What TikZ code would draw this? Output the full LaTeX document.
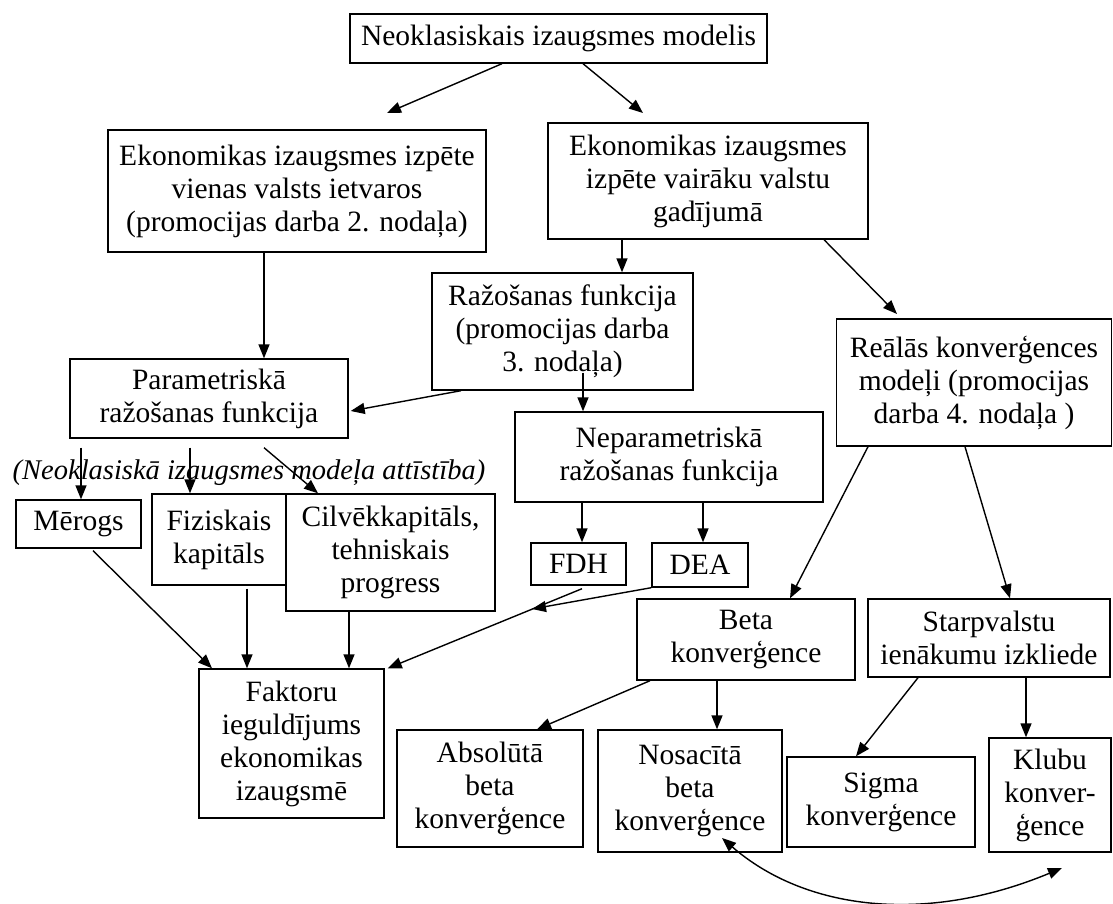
\documentclass[tikz,border=0pt]{standalone}
\usepackage{fontspec}
\setmainfont{Liberation Serif}
\usetikzlibrary{arrows.meta}
\newcommand{\boxfont}{\fontsize{29.5}{33}\selectfont}
\newcommand{\lblfont}{\fontsize{28.5}{32}\selectfont\itshape}
\begin{document}
\begin{tikzpicture}[x=1pt,y=-1pt,
  box/.style={draw, line width=1.4pt, inner sep=0pt, align=center, font=\boxfont},
  arr/.style={line width=1.4pt, -{Triangle[length=14pt,width=11pt]}},
  darr/.style={line width=1.4pt, {Triangle[length=14pt,width=11pt]}-{Triangle[length=14pt,width=11pt]}},
  lbl/.style={inner sep=0pt, font=\lblfont}
]
\useasboundingbox (0,0) rectangle (1113,904);

% nodes
\node[box, minimum width=417pt, minimum height=49pt] (top) at (558.5,38.5) {Neoklasiskais izaugsmes modelis};
\node[box, minimum width=378pt, minimum height=122pt] (ekon1) at (297,191) {Ekonomikas izaugsmes izpēte\\vienas valsts ietvaros\\(promocijas darba 2. nodaļa)};
\node[box, minimum width=320pt, minimum height=116pt] (ekon2) at (708,181) {Ekonomikas izaugsmes\\izpēte vairāku valstu\\gadījumā};
\node[box, minimum width=261pt, minimum height=117pt] (raz) at (562.5,331.5) {Ražošanas funkcija\\(promocijas darba\\3. nodaļa)};
\node[box, minimum width=275pt, minimum height=127pt] (real) at (974,382.5) {Reālās konverģences\\modeļi (promocijas\\darba 4. nodaļa )};
\node[box, minimum width=278pt, minimum height=79pt] (param) at (209,398.5) {Parametriskā\\ražošanas funkcija};
\node[box, minimum width=308pt, minimum height=90pt] (nep) at (669,457) {Neparametriskā\\ražošanas funkcija};
\node[lbl] (devel) at (249,473) {(Neoklasiskā izaugsmes modeļa attīstība)};
\node[box, minimum width=125pt, minimum height=48pt] (merogs) at (78.5,524) {Mērogs};
\node[box, minimum width=134pt, minimum height=91pt] (fiz) at (219,539.5) {Fiziskais\\kapitāls};
\node[box, minimum width=209pt, minimum height=117pt] (cil) at (390.5,552.5) {Cilvēkkapitāls,\\tehniskais\\progress};
\node[box, minimum width=95pt, minimum height=42pt] (fdh) at (578.5,564) {FDH};
\node[box, minimum width=96pt, minimum height=44pt] (dea) at (700,565) {DEA};
\node[box, minimum width=185pt, minimum height=149pt] (fak) at (291.5,743.5) {Faktoru\\ieguldījums\\ekonomikas\\izaugsmē};
\node[box, minimum width=218pt, minimum height=81pt] (beta) at (746,639.5) {Beta\\konverģence};
\node[box, minimum width=242pt, minimum height=78pt] (starp) at (989,638) {Starpvalstu\\ienākumu izkliede};
\node[box, minimum width=186pt, minimum height=117pt] (abs) at (490,788.5) {Absolūtā\\beta\\konverģence};
\node[box, minimum width=184pt, minimum height=122pt] (nos) at (690,791) {Nosacītā\\beta\\konverģence};
\node[box, minimum width=188pt, minimum height=90pt] (sig) at (881,802) {Sigma\\konverģence};
\node[box, minimum width=122pt, minimum height=114pt] (kl) at (1050,795) {Klubu\\konver-\\ģence};

% free ends
\coordinate (e1) at (387,113);
\coordinate (e2) at (643,113);
\coordinate (e5) at (897,314);
\coordinate (e19) at (532,609);
\coordinate (cA) at (722,838);
\coordinate (cB) at (1062,868);

% connectors
\draw[arr] ([xshift=-56.5pt]top.south) -- (e1);
\draw[arr] ([xshift=24.5pt]top.south) -- (e2);
\draw[arr] ([xshift=-33pt]ekon1.south) -- ([xshift=55pt]param.north);
\draw[arr] ([xshift=-86pt]ekon2.south) -- ([xshift=59.5pt]raz.north);
\draw[arr] ([xshift=116pt]ekon2.south) -- (e5);
\draw[arr] ([xshift=-101.5pt]raz.south) -- ([xshift=2pt,yshift=-12.5pt]param.east);
\draw[arr] ([xshift=20.5pt,yshift=18pt]raz.south) -- ([xshift=-86pt]nep.north);
\draw[arr] ([xshift=-128pt,yshift=-9pt]param.south) -- ([xshift=2.5pt]merogs.north);
\draw[arr] ([xshift=-19pt,yshift=-9pt]param.south) -- ([xshift=-29pt]fiz.north);
\draw[arr] ([xshift=55pt,yshift=-9pt]param.south) -- ([xshift=-72.5pt]cil.north);
\draw[arr] ([xshift=-87pt]nep.south) -- ([xshift=3.5pt]fdh.north);
\draw[arr] ([xshift=34pt]nep.south) -- ([xshift=3pt]dea.north);
\draw[arr] ([xshift=-106pt]real.south) -- ([xshift=44pt]beta.north);
\draw[arr] ([xshift=-9pt]real.south) -- ([xshift=21pt]starp.north);
\draw[arr] ([xshift=14.5pt,yshift=-2pt]merogs.south) -- ([xshift=-79.5pt]fak.north);
\draw[arr] ([xshift=28pt,yshift=-3pt]fiz.south) -- ([xshift=-44.5pt]fak.north);
\draw[arr] ([xshift=-41.5pt]cil.south) -- ([xshift=57.5pt]fak.north);
\draw[arr] ([xshift=3.5pt,yshift=-3pt]fdh.south) -- ([xshift=3pt]fak.north east);
\draw[arr] (dea.south west) -- (e19);
\draw[arr] ([xshift=-96pt]beta.south) -- ([xshift=47pt]abs.north);
\draw[arr] ([xshift=-29pt]beta.south) -- ([xshift=27pt]nos.north);
\draw[arr] ([xshift=-71pt]starp.south) -- ([xshift=-25pt]sig.north);
\draw[arr] ([xshift=37pt]starp.south) -- ([xshift=-24pt]kl.north);
\draw[darr] (cA) .. controls (805,910) and (925,925) .. (cB);
\end{tikzpicture}
\end{document}
